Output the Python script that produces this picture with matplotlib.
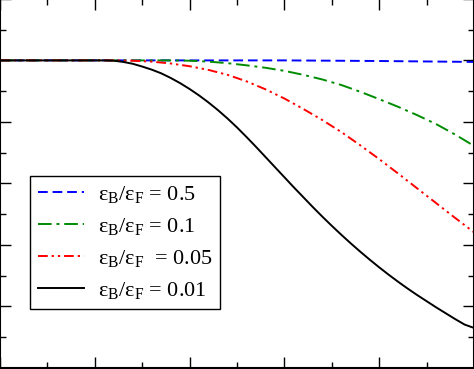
import numpy as np
import matplotlib
matplotlib.use("Agg")
import matplotlib.pyplot as plt
from matplotlib.ticker import MultipleLocator

plt.rcParams['font.family'] = ['Liberation Serif', 'DejaVu Serif']
plt.rcParams['mathtext.fontset'] = 'custom'
plt.rcParams['mathtext.rm'] = 'Liberation Serif'

# values
x_blue = [0.0, 3.0, 4.0, 5.0]
y_blue = [1.0, 1.0, 0.998, 0.995]

x_green = [0.0, 1.8, 2.0, 2.2, 2.4, 2.6, 2.8, 3.0, 3.2, 3.4, 3.6, 3.8, 4.0, 4.2, 4.4,
           4.6, 4.8, 5.0]
y_green = [1.0, 1.0, 0.999, 0.996, 0.991, 0.984, 0.976, 0.966, 0.953, 0.938, 0.920,
           0.898, 0.874, 0.849, 0.822, 0.793, 0.759, 0.722]

x_red = [0.0, 1.2, 1.4, 1.6, 1.8, 2.0, 2.2, 2.4, 2.6, 2.8, 3.0, 3.2, 3.4, 3.6, 3.8,
         4.0, 4.2, 4.4, 4.6, 4.8, 5.0]
y_red = [1.0, 1.0, 0.999, 0.996, 0.990, 0.981, 0.969, 0.953, 0.932, 0.906, 0.876,
         0.842, 0.806, 0.767, 0.724, 0.679, 0.632, 0.584, 0.536, 0.488, 0.441]

x_black = [0.0, 1.0, 1.1, 1.2, 1.3, 1.4, 1.5, 1.6, 1.7, 1.8, 1.9, 2.0, 2.1, 2.2, 2.3,
           2.4, 2.5, 2.6, 2.7, 2.8, 2.9, 3.0, 3.1, 3.2, 3.3, 3.4, 3.5, 3.6, 3.7, 3.8,
           3.9, 4.0, 4.1, 4.2, 4.3, 4.4, 4.5, 4.6, 4.7, 4.8, 4.9, 5.0]
y_black = [1.0, 1.0, 1.0, 0.999, 0.995, 0.989, 0.980, 0.970, 0.958, 0.943, 0.926,
           0.907, 0.886, 0.863, 0.838, 0.811, 0.782, 0.751, 0.719, 0.686, 0.653,
           0.620, 0.587, 0.555, 0.523, 0.492, 0.462, 0.433, 0.405, 0.378, 0.352,
           0.327, 0.303, 0.280, 0.258, 0.237, 0.217, 0.197, 0.178, 0.159, 0.141, 0.130]

labels = [r'$\mathregular{ε_B/ε_F}$ = 0.5',
          r'$\mathregular{ε_B/ε_F}$ = 0.1',
          r'$\mathregular{ε_B/ε_F}$  = 0.05',
          r'$\mathregular{ε_B/ε_F}$ = 0.01']

fig = plt.figure(figsize=(4.74, 3.69), dpi=100)
ax = fig.add_axes([0.0, 0.003, 1.0, 1.0])

ax.plot(x_blue, y_blue, color='#0000ff', lw=1.4, dashes=(5, 2.5), label=labels[0])
ax.plot(x_green, y_green, color='#008c00', lw=1.4, dashes=(7, 2.5, 1.5, 2.5), label=labels[1])
ax.plot(x_red, y_red, color='#ff0000', lw=1.4, dashes=(5, 2, 1.2, 2, 1.2, 2), label=labels[2])
ax.plot(x_black, y_black, color='black', lw=1.4, label=labels[3])

ax.set_xlim(0, 5)
ax.set_ylim(0, 1.2)
ax.xaxis.set_major_locator(MultipleLocator(1))
ax.xaxis.set_minor_locator(MultipleLocator(0.5))
ax.yaxis.set_major_locator(MultipleLocator(0.2))
ax.yaxis.set_minor_locator(MultipleLocator(0.1))
ax.tick_params(which='both', direction='in', top=True, right=True,
               labelbottom=False, labelleft=False, width=1)
ax.tick_params(which='major', length=8)
ax.tick_params(which='minor', length=4)
for s in ax.spines.values():
    s.set_linewidth(1.5)

leg = ax.legend(loc='lower left', bbox_to_anchor=(0.063, 0.16), borderaxespad=0,
                fontsize=16, fancybox=False, framealpha=1, edgecolor='black',
                handlelength=2.1, handletextpad=0.6, labelspacing=0.5, borderpad=0.35)
leg.get_frame().set_linewidth(1)

fig.savefig('out.png', dpi=100)
